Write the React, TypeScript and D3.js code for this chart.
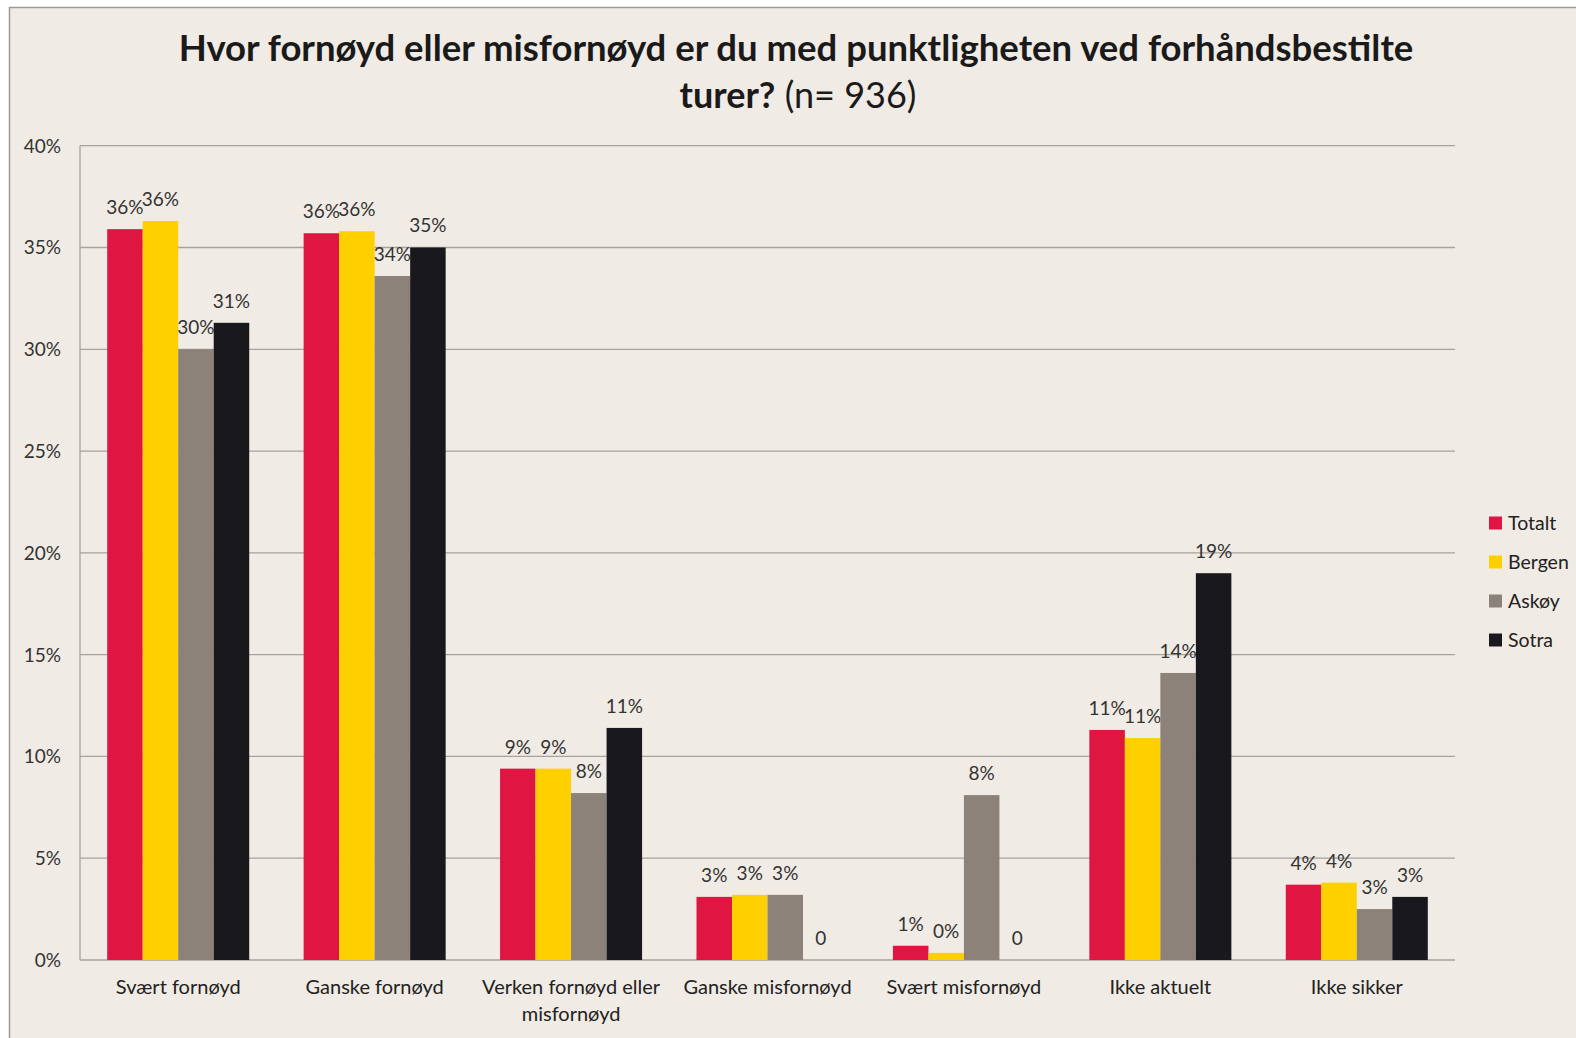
import React from "react";
import * as d3 from "d3";

const categories = [
  "Svært fornøyd",
  "Ganske fornøyd",
  "Verken fornøyd eller misfornøyd",
  "Ganske misfornøyd",
  "Svært misfornøyd",
  "Ikke aktuelt",
  "Ikke sikker",
];
const seriesNames = ["Totalt", "Bergen", "Askøy", "Sotra"];
const totalt = [35.9, 35.7, 9.4, 3.1, 0.7, 11.3, 3.7];
const bergen = [36.3, 35.8, 9.4, 3.2, 0.35, 10.9, 3.8];
const askoy = [30.0, 33.6, 8.2, 3.2, 8.1, 14.1, 2.5];
const sotra = [31.3, 35.0, 11.4, 0, 0, 19.0, 3.1];
const labelsTotalt = ["36%", "36%", "9%", "3%", "1%", "11%", "4%"];
const labelsBergen = ["36%", "36%", "9%", "3%", "0%", "11%", "4%"];
const labelsAskoy = ["30%", "34%", "8%", "3%", "8%", "14%", "3%"];
const labelsSotra = ["31%", "35%", "11%", "0", "0", "19%", "3%"];
const yTicks = [0, 5, 10, 15, 20, 25, 30, 35, 40];
const colors = ["#DE1641", "#FFD000", "#8C8279", "#19181C"];

const W = 1576;
const H = 1038;
const FONT = "Lato, 'Open Sans', sans-serif";

export default function App() {
  const values = [totalt, bergen, askoy, sotra];
  const labels = [labelsTotalt, labelsBergen, labelsAskoy, labelsSotra];
  const plotL = 80, plotR = 1455, plotT = 145.7, plotB = 960;
  const x0 = d3.scaleBand<string>().domain(categories).range([plotL, plotR]).paddingInner(0.277).paddingOuter(0.1385);
  const x1 = d3.scaleBand<string>().domain(seriesNames).range([0, x0.bandwidth()]).padding(0);
  const y = d3.scaleLinear().domain([0, 40]).range([plotB, plotT]);

  const wrap = (c: string) =>
    c === "Verken fornøyd eller misfornøyd" ? ["Verken fornøyd eller", "misfornøyd"] : [c];

  return (
    <svg width={W} height={H} style={{ position: "absolute", left: 0, top: 0 }} fontFamily={FONT}>
      <rect x={0} y={0} width={W} height={H} fill="#ffffff" />
      <rect x={9.5} y={7.5} width={W + 10} height={H + 10} fill="#F0EBE4" stroke="#9a9a9a" strokeWidth={1.5} />
      <text x={796} y={61} textAnchor="middle" fontSize={36.5} fontWeight={700} fill="#1a1a1a">
        Hvor fornøyd eller misfornøyd er du med punktligheten ved forhåndsbestilte
      </text>
      <text x={798} y={108} textAnchor="middle" fontSize={36} fill="#1a1a1a">
        <tspan fontWeight={700}>turer?</tspan>
        <tspan> (n= 936)</tspan>
      </text>
      {yTicks.map((t) => (
        <g key={t}>
          <line x1={plotL} x2={plotR} y1={y(t)} y2={y(t)} stroke="#A8A29C" strokeWidth={1.3} />
          <text x={61} y={y(t) + 7} textAnchor="end" fontSize={19} fill="#333">
            {t}%
          </text>
        </g>
      ))}
      <line x1={plotL} x2={plotL} y1={plotT} y2={plotB} stroke="#A8A29C" strokeWidth={1.3} />
      {categories.map((c, ci) => (
        <g key={c} transform={`translate(${x0(c)},0)`}>
          {seriesNames.map((s, si) => {
            const v = values[si][ci];
            const bx = x1(s)!;
            const bw = x1.bandwidth();
            return (
              <g key={s}>
                {v > 0 && <rect x={bx} y={y(v)} width={bw} height={plotB - y(v)} fill={colors[si]} />}
                <text x={bx + bw / 2} y={y(v) - 15} textAnchor="middle" fontSize={19} fill="#333">
                  {labels[si][ci]}
                </text>
              </g>
            );
          })}
          {wrap(c).map((line, li) => (
            <text key={li} x={x0.bandwidth() / 2} y={994 + li * 27} textAnchor="middle" fontSize={20} fill="#222">
              {line}
            </text>
          ))}
        </g>
      ))}
      {seriesNames.map((s, si) => (
        <g key={s} transform={`translate(1489, ${523 + si * 39})`}>
          <rect x={0} y={-6.5} width={13} height={13} fill={colors[si]} />
          <text x={19} y={7} fontSize={19.5} fill="#222">
            {s}
          </text>
        </g>
      ))}
    </svg>
  );
}
